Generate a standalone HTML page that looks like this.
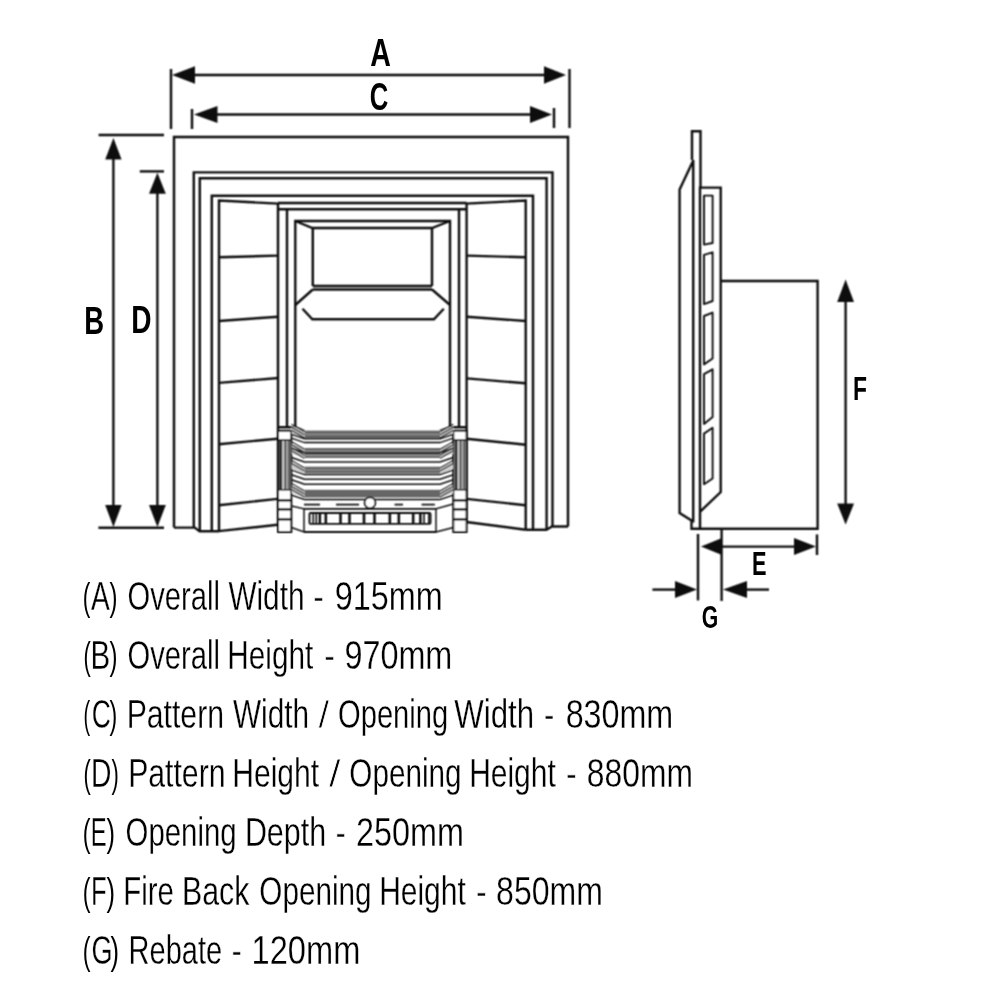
<!DOCTYPE html>
<html><head><meta charset="utf-8">
<style>
html,body{margin:0;padding:0;background:#fff;}
body{width:1000px;height:1000px;overflow:hidden;position:relative;}
svg{position:absolute;left:0;top:0;will-change:transform;}
.t{font-family:"Liberation Sans",sans-serif;font-size:40px;fill:#000;stroke:#fff;stroke-width:0.3px;}
.b{font-family:"Liberation Sans",sans-serif;font-weight:bold;fill:#000;}
</style></head><body>
<svg width="1000" height="1000" viewBox="0 0 1000 1000">
<defs><filter id="bl" x="0" y="0" width="1000" height="1000" filterUnits="userSpaceOnUse"><feConvolveMatrix order="3" kernelMatrix="1 2 1 2 4 2 1 2 1" divisor="16" edgeMode="none"/></filter></defs>
<g filter="url(#bl)">
<g fill="none" stroke="#111" stroke-width="2.4" stroke-linejoin="miter">
<!-- A dimension -->
<line x1="171" y1="69" x2="171" y2="129"/>
<line x1="569.5" y1="69" x2="569.5" y2="128"/>
<line x1="190" y1="75" x2="550" y2="75"/>
<!-- C dimension -->
<line x1="192" y1="109" x2="192" y2="129"/>
<line x1="554" y1="108" x2="554" y2="128"/>
<line x1="210" y1="114.5" x2="535" y2="114.5"/>
<!-- B / D -->
<line x1="98.6" y1="135" x2="164" y2="135"/>
<line x1="98.4" y1="527.8" x2="164" y2="527.8"/>
<line x1="113.4" y1="150" x2="113.4" y2="515"/>
<line x1="139.8" y1="171.4" x2="164" y2="171.4"/>
<line x1="157.4" y1="185" x2="157.4" y2="515"/>

<!-- outer frame -->
<path d="M174,527.6 V137 H568 V526.5"/>
<path d="M174,527.6 H194.7 L199.6,531.2 H219"/>
<path d="M568,526.5 H552 L546.4,529.7 H525.7"/>
<!-- frame 2 -->
<path d="M193.8,527.6 V172.4 H552.5 V526.5"/>
<path d="M199.8,531.2 V178.3 H546.6 V529.7"/>
<!-- frame 3 -->
<path d="M211.8,531.2 V195.8 H533 V529.7"/>
<!-- tile panels -->
<path d="M219,531.2 V200.6 L278,203.6 V524.8"/>
<path d="M466.6,522 V203.6 L525.7,200.6 V529.7"/>
<path d="M219.2,257.3 L278,255.6 M218.8,321 L278.3,316.7 M218.8,382.9 L278.3,378 M218.8,444.3 L277.6,438.7 M218.8,505.2 L277.6,498.9 M218.8,531.1 L277.6,524.8"/>
<path d="M466.6,255.6 L525.7,257.3 M466.6,316.8 L525.7,321 M466.6,378.4 L525.7,383.3 M466.3,438.7 L525.7,444.7 M466.3,498.9 L525.7,505.2 M466.3,522 L525.7,529.7"/>
<!-- center top lines -->
<line x1="278" y1="203" x2="466.6" y2="203"/>
<line x1="278" y1="209.2" x2="466.6" y2="209.2"/>
<line x1="287" y1="209.2" x2="287" y2="427.3"/>
<line x1="459" y1="209.2" x2="459" y2="427.3"/>
<!-- inner cast frame -->
<path d="M295.3,427.3 V221 H450 V427.3"/>
<path d="M295.3,221 L312.4,228 H432 L450,221"/>
<path d="M312.8,228 V286 M432,228 V286"/>
<line x1="312.8" y1="286" x2="432" y2="286"/>
<line x1="312.8" y1="289.5" x2="432" y2="289.5"/>
<path d="M312.8,289.5 L295.3,305 M432,289.5 L450,305"/>
<path d="M302.5,308.7 L312.4,319.2 H433.9 L443.8,308.7"/>
<path d="M278,427.3 H295.3 L304.5,431 M466.6,427.3 H450 L440,431"/>
</g>

<!-- arrowheads -->
<g fill="#111" stroke="none">
<polygon points="172,75 195,66.2 195,83.8"/>
<polygon points="566,75 544,66.2 544,83.8"/>
<polygon points="194,114.5 217.5,106.1 217.5,122.9"/>
<polygon points="552,114.5 530,106.1 530,122.9"/>
<polygon points="113.4,138 105.2,159.6 121.6,159.6"/>
<polygon points="113.4,527 105.2,505 121.6,505"/>
<polygon points="157.4,172.8 149,193.8 165.8,193.8"/>
<polygon points="157.4,527 149,505 165.8,505"/>
</g>

<!-- GRATE -->
<g>
<g fill="#fff" stroke="#111" stroke-width="2"><rect x="278" y="430.8" width="13.3" height="101.2"/><rect x="453.3" y="430.8" width="13.3" height="101.2"/></g>
<rect x="279" y="440" width="11.3" height="49.5" fill="#5e5e5e"/>
<rect x="282.4" y="440" width="1.6" height="49.5" fill="#d8d8d8"/>
<rect x="286.4" y="440" width="1.4" height="49.5" fill="#b8b8b8"/>
<path d="M280.6,440 V489.5" stroke="#111" stroke-width="1.6"/>
<path d="M278,440 H291.3 M278,489.8 H291.3 M278,499.6 H291.3 M278,500.8 H291.3 M278,508.6 H291.3 M278,509.8 H291.3 M278,518.6 H291.3 M278,519.8 H291.3" stroke="#111" stroke-width="1.4"/>
<rect x="454.3" y="440" width="11.3" height="49.5" fill="#5e5e5e"/>
<rect x="457.7" y="440" width="1.6" height="49.5" fill="#d8d8d8"/>
<rect x="461.7" y="440" width="1.4" height="49.5" fill="#b8b8b8"/>
<path d="M455.90000000000003,440 V489.5" stroke="#111" stroke-width="1.6"/>
<path d="M453.3,440 H466.6 M453.3,489.8 H466.6 M453.3,499.6 H466.6 M453.3,500.8 H466.6 M453.3,508.6 H466.6 M453.3,509.8 H466.6 M453.3,518.6 H466.6 M453.3,519.8 H466.6" stroke="#111" stroke-width="1.4"/>
<g fill="#666">
<rect x="304.5" y="430.6" width="135.5" height="8.0"/>
<rect x="304.5" y="448" width="135.5" height="10.0"/>
<rect x="304.5" y="466.7" width="135.5" height="6.6"/>
<rect x="304.5" y="489.8" width="135.5" height="7.7"/>
</g><g fill="#d0d0d0">
<polygon points="291.5,426.1 304.5,430.6 304.5,438.6 291.5,434.1"/>
<polygon points="453.3,426.1 440,430.6 440,438.6 453.3,434.1"/>
<polygon points="291.5,443.5 304.5,448 304.5,458 291.5,453.5"/>
<polygon points="453.3,443.5 440,448 440,458 453.3,453.5"/>
<polygon points="291.5,462.2 304.5,466.7 304.5,473.3 291.5,468.8"/>
<polygon points="453.3,462.2 440,466.7 440,473.3 453.3,468.8"/>
<polygon points="291.5,485.3 304.5,489.8 304.5,497.5 291.5,493.0"/>
<polygon points="453.3,485.3 440,489.8 440,497.5 453.3,493.0"/>
</g>
<g fill="none" stroke="#111" stroke-width="1.5">
<path d="M291.5,434.3 L304.5,438.8 H440 L453.3,434.3"/>
<path d="M291.5,438.1 L304.5,442.6 H440 L453.3,438.1"/>
<path d="M291.5,448.3 L304.5,452.8 H440 L453.3,448.3"/>
<path d="M291.5,457.5 L304.5,462 H440 L453.3,457.5"/>
<path d="M291.5,469.9 L304.5,474.4 H440 L453.3,469.9"/>
<path d="M291.5,474.8 L304.5,479.3 H440 L453.3,474.8"/>
<path d="M291.5,479.8 L304.5,484.3 H440 L453.3,479.8"/>
<path d="M291.5,495.0 L304.5,499.5 H440 L453.3,495.0"/>
</g><g fill="none" stroke="#9a9a9a" stroke-width="1">
<line x1="304.5" y1="434.3" x2="440" y2="434.3"/>
<line x1="304.5" y1="451" x2="440" y2="451"/>
<line x1="304.5" y1="455.5" x2="440" y2="455.5"/>
<line x1="304.5" y1="470" x2="440" y2="470"/>
</g><g fill="none" stroke="#111" stroke-width="1.5">
<path d="M291.5,424.3 L304.5,431.8 M453.3,424.3 L440.0,431.8 M291.5,427.3 L304.5,434.8 M453.3,427.3 L440.0,434.8 M291.5,430.3 L304.5,437.8 M453.3,430.3 L440.0,437.8 M291.5,441.7 L304.5,449.2 M453.3,441.7 L440.0,449.2 M291.5,444.7 L304.5,452.2 M453.3,444.7 L440.0,452.2 M291.5,447.7 L304.5,455.2 M453.3,447.7 L440.0,455.2 M291.5,450.7 L304.5,458.2 M453.3,450.7 L440.0,458.2 M291.5,460.4 L304.5,467.9 M453.3,460.4 L440.0,467.9 M291.5,463.4 L304.5,470.9 M453.3,463.4 L440.0,470.9 M291.5,483.5 L304.5,491.0 M453.3,483.5 L440.0,491.0 M291.5,486.5 L304.5,494.0 M453.3,486.5 L440.0,494.0 M291.5,489.5 L304.5,497.0 M453.3,489.5 L440.0,497.0" stroke-width="1.2"/>
<path d="M304,504.6 H320 M336,504.6 H359 M394.6,504.6 H403 M421.6,504.6 H434.8" stroke-width="1.6"/>
<path d="M291.5,506 L304,508.8 V532 L291.5,527.5"/>
<path d="M453.3,504 L436,508.8 V532 L453.3,527.5"/>
<path d="M304,508.8 H436 M304,532 H436" stroke-width="1.8"/>
<rect x="309.5" y="513" width="121" height="10.8" rx="1" stroke-width="1.8"/>
</g>
<g fill="#111">
<rect x="312.4" y="513" width="1.6" height="10.8"/>
<rect x="315.4" y="513" width="1.6" height="10.8"/>
<rect x="318.5" y="513" width="2.6" height="10.8"/>
<rect x="324.5" y="513" width="2.6" height="10.8"/>
<rect x="339.2" y="513" width="2.6" height="10.8"/>
<rect x="348.2" y="513" width="2.6" height="10.8"/>
<rect x="362.7" y="513" width="2.6" height="10.8"/>
<rect x="373.2" y="513" width="2.6" height="10.8"/>
<rect x="388.5" y="513" width="2.6" height="10.8"/>
<rect x="397.5" y="513" width="2.6" height="10.8"/>
<rect x="411.9" y="513" width="2.6" height="10.8"/>
<rect x="419.1" y="513" width="2.6" height="10.8"/>
<rect x="423.2" y="513" width="1.6" height="10.8"/>
<rect x="428.0" y="513" width="1.6" height="10.8"/>
</g>
<circle cx="370" cy="502.8" r="5.4" fill="#fff" stroke="#111" stroke-width="1.8"/>
</g>

<!-- SIDE VIEW -->
<g fill="none" stroke="#111" stroke-width="2.4">
<path d="M692,160 V131.2 H700.5 V187.6"/>
<path d="M693.2,160 V522.5"/>
<path d="M692.8,161.6 L679.6,189.6 V513 L691.5,520.4 V528.8 H817.6 V281 H720.7"/>
<path d="M700,528 V187.6 H720.7 V492 L700.2,511.6"/>





<g stroke-width="1.9" stroke-linejoin="round"><path d="M704,195.6 H712.6 V243 L704,244.6 Z"/><path d="M704,254.8 L712.6,252.3 V301 L704,304.1 Z"/><path d="M704,316 L712.6,312.6 V358.5 L704,364.4 Z"/><path d="M704,374.1 L712.6,369.3 V417 L704,423.9 Z"/><path d="M704,433.6 L712.6,427.8 V478.5 L704,484.3 Z"/></g>
<!-- F -->
<line x1="845.6" y1="295" x2="845.6" y2="510"/>
<!-- E / G ticks -->
<line x1="698" y1="534" x2="698" y2="600.4"/>
<line x1="721.6" y1="529" x2="721.6" y2="601"/>
<line x1="817" y1="534.4" x2="817" y2="555"/>
<line x1="715" y1="546.6" x2="800" y2="546.6"/>
<line x1="652.4" y1="589.6" x2="680" y2="589.6"/>
<line x1="740" y1="589.6" x2="769" y2="589.6"/>
</g>
<g fill="#111" stroke="none">
<polygon points="845.6,279.6 837.2,302 854,302"/>
<polygon points="845.6,524.6 837.2,503.6 854,503.6"/>
<polygon points="701,546.6 722,538.1 722,555.1"/>
<polygon points="816,546.6 794,538.1 794,555.1"/>
<polygon points="697,589.6 675,581.1 675,598.1"/>
<polygon points="723,589.6 747,581.1 747,598.1"/>
</g>

</g>
<!-- labels -->
<g class="b">
<text transform="translate(380.6,65.8) scale(0.733,1)" text-anchor="middle" font-size="39">A</text>
<text transform="translate(379.1,109.8) scale(0.667,1)" text-anchor="middle" font-size="38.5">C</text>
<text transform="translate(94.1,333.6) scale(0.706,1)" text-anchor="middle" font-size="39">B</text>
<text transform="translate(141.45,333) scale(0.72,1)" text-anchor="middle" font-size="39">D</text>
<text transform="translate(860.05,399.9) scale(0.687,1)" text-anchor="middle" font-size="33.3">F</text>
<text transform="translate(759.3,574.7) scale(0.665,1)" text-anchor="middle" font-size="32.7">E</text>
<text transform="translate(710.07,627.5) scale(0.666,1)" text-anchor="middle" font-size="31.8">G</text>
</g>

<!-- legend text -->
<g class="t">
<text x="82.86" y="609.8" textLength="7.57" lengthAdjust="spacingAndGlyphs" style="stroke:none;font-size:38.6px">(</text>
<text x="91.00" y="609.8" textLength="18.78" lengthAdjust="spacingAndGlyphs">A</text>
<text x="109.40" y="609.8" textLength="8.00" lengthAdjust="spacingAndGlyphs" style="stroke:none;font-size:38.6px">)</text>
<text x="127.54" y="609.8" textLength="92.43" lengthAdjust="spacingAndGlyphs">Overall</text>
<text x="228.40" y="609.8" textLength="76.07" lengthAdjust="spacingAndGlyphs">Width</text>
<text x="313.12" y="609.8" textLength="11.20" lengthAdjust="spacingAndGlyphs" style="stroke-width:0.7px">-</text>
<text x="334.78" y="609.8" textLength="107.95" lengthAdjust="spacingAndGlyphs">915mm</text>
<text x="83.41" y="668.9" textLength="7.27" lengthAdjust="spacingAndGlyphs" style="stroke:none;font-size:38.6px">(</text>
<text x="90.59" y="668.9" textLength="19.65" lengthAdjust="spacingAndGlyphs">B</text>
<text x="109.40" y="668.9" textLength="8.00" lengthAdjust="spacingAndGlyphs" style="stroke:none;font-size:38.6px">)</text>
<text x="127.54" y="668.9" textLength="92.43" lengthAdjust="spacingAndGlyphs">Overall</text>
<text x="227.37" y="668.9" textLength="85.95" lengthAdjust="spacingAndGlyphs">Height</text>
<text x="323.92" y="668.9" textLength="11.20" lengthAdjust="spacingAndGlyphs" style="stroke-width:0.7px">-</text>
<text x="344.38" y="668.9" textLength="107.95" lengthAdjust="spacingAndGlyphs">970mm</text>
<text x="83.50" y="728.0" textLength="6.66" lengthAdjust="spacingAndGlyphs" style="stroke:none;font-size:38.6px">(</text>
<text x="91.68" y="728.0" textLength="19.07" lengthAdjust="spacingAndGlyphs">C</text>
<text x="109.42" y="728.0" textLength="7.73" lengthAdjust="spacingAndGlyphs" style="stroke:none;font-size:38.6px">)</text>
<text x="126.64" y="728.0" textLength="97.35" lengthAdjust="spacingAndGlyphs">Pattern</text>
<text x="233.00" y="728.0" textLength="76.07" lengthAdjust="spacingAndGlyphs">Width</text>
<text x="318.50" y="728.0" textLength="10.62" lengthAdjust="spacingAndGlyphs" style="font-size:39px;stroke-width:0.8px">/</text>
<text x="338.04" y="728.0" textLength="110.19" lengthAdjust="spacingAndGlyphs">Opening</text>
<text x="454.30" y="728.0" textLength="79.75" lengthAdjust="spacingAndGlyphs">Width</text>
<text x="543.70" y="728.0" textLength="10.66" lengthAdjust="spacingAndGlyphs" style="stroke-width:0.7px">-</text>
<text x="565.69" y="728.0" textLength="107.54" lengthAdjust="spacingAndGlyphs">830mm</text>
<text x="83.41" y="787.1" textLength="7.27" lengthAdjust="spacingAndGlyphs" style="stroke:none;font-size:38.6px">(</text>
<text x="90.88" y="787.1" textLength="20.46" lengthAdjust="spacingAndGlyphs">D</text>
<text x="111.45" y="787.1" textLength="7.33" lengthAdjust="spacingAndGlyphs" style="stroke:none;font-size:38.6px">)</text>
<text x="128.14" y="787.1" textLength="97.35" lengthAdjust="spacingAndGlyphs">Pattern</text>
<text x="232.25" y="787.1" textLength="86.87" lengthAdjust="spacingAndGlyphs">Height</text>
<text x="329.00" y="787.1" textLength="11.53" lengthAdjust="spacingAndGlyphs" style="font-size:39px;stroke-width:0.8px">/</text>
<text x="349.32" y="787.1" textLength="112.24" lengthAdjust="spacingAndGlyphs">Opening</text>
<text x="469.15" y="787.1" textLength="86.57" lengthAdjust="spacingAndGlyphs">Height</text>
<text x="565.84" y="787.1" textLength="11.06" lengthAdjust="spacingAndGlyphs" style="stroke-width:0.7px">-</text>
<text x="586.81" y="787.1" textLength="106.09" lengthAdjust="spacingAndGlyphs">880mm</text>
<text x="82.84" y="846.2" textLength="7.75" lengthAdjust="spacingAndGlyphs" style="stroke:none;font-size:38.6px">(</text>
<text x="90.71" y="846.2" textLength="15.89" lengthAdjust="spacingAndGlyphs">E</text>
<text x="106.56" y="846.2" textLength="8.53" lengthAdjust="spacingAndGlyphs" style="stroke:none;font-size:38.6px">)</text>
<text x="125.53" y="846.2" textLength="111.11" lengthAdjust="spacingAndGlyphs">Opening</text>
<text x="244.92" y="846.2" textLength="81.17" lengthAdjust="spacingAndGlyphs">Depth</text>
<text x="335.62" y="846.2" textLength="10.53" lengthAdjust="spacingAndGlyphs" style="stroke-width:0.7px">-</text>
<text x="355.98" y="846.2" textLength="107.95" lengthAdjust="spacingAndGlyphs">250mm</text>
<text x="82.84" y="905.3" textLength="7.75" lengthAdjust="spacingAndGlyphs" style="stroke:none;font-size:38.6px">(</text>
<text x="90.88" y="905.3" textLength="15.64" lengthAdjust="spacingAndGlyphs">F</text>
<text x="106.56" y="905.3" textLength="8.53" lengthAdjust="spacingAndGlyphs" style="stroke:none;font-size:38.6px">)</text>
<text x="123.20" y="905.3" textLength="50.59" lengthAdjust="spacingAndGlyphs">Fire</text>
<text x="181.93" y="905.3" textLength="67.43" lengthAdjust="spacingAndGlyphs">Back</text>
<text x="259.32" y="905.3" textLength="112.24" lengthAdjust="spacingAndGlyphs">Opening</text>
<text x="379.15" y="905.3" textLength="86.57" lengthAdjust="spacingAndGlyphs">Height</text>
<text x="475.84" y="905.3" textLength="11.06" lengthAdjust="spacingAndGlyphs" style="stroke-width:0.7px">-</text>
<text x="496.10" y="905.3" textLength="106.82" lengthAdjust="spacingAndGlyphs">850mm</text>
<text x="82.84" y="964.4" textLength="7.75" lengthAdjust="spacingAndGlyphs" style="stroke:none;font-size:38.6px">(</text>
<text x="91.45" y="964.4" textLength="21.07" lengthAdjust="spacingAndGlyphs">G</text>
<text x="110.56" y="964.4" textLength="8.53" lengthAdjust="spacingAndGlyphs" style="stroke:none;font-size:38.6px">)</text>
<text x="128.62" y="964.4" textLength="93.51" lengthAdjust="spacingAndGlyphs">Rebate</text>
<text x="231.52" y="964.4" textLength="10.53" lengthAdjust="spacingAndGlyphs" style="stroke-width:0.7px">-</text>
<text x="251.55" y="964.4" textLength="108.80" lengthAdjust="spacingAndGlyphs">120mm</text>
</g>
</svg>
</body></html>
